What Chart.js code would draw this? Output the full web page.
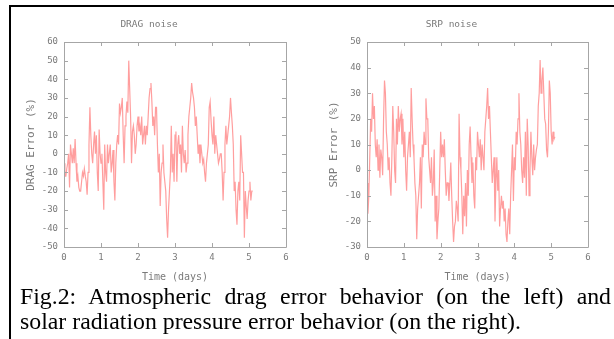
<!DOCTYPE html>
<html>
<head>
<meta charset="utf-8">
<script src="https://cdn.jsdelivr.net/npm/chart.js@4"></script>
<style>
  html, body { margin: 0; padding: 0; background: #fff; }
  body { width: 614px; height: 339px; position: relative; overflow: hidden; }
  .frame { position: absolute; left: 9px; top: 5px; width: 620px; height: 340px;
           border-left: 2px solid #000; border-top: 2px solid #000; }
  .plot { position: absolute; top: 8px; width: 293px; height: 280px; }
  #dragBox { left: 12px; }
  #srpBox { left: 315px; }
  .caption { position: absolute; left: 20px; top: 284px; width: 591px;
             font-family: 'Liberation Serif', 'Times New Roman', serif; font-size: 23.8px;
             line-height: 25px; color: #000; white-space: nowrap; }
  .caption .l1 { text-align: justify; text-align-last: justify; }
</style>
</head>
<body>
<div class="frame"></div>
<div class="plot" id="dragBox"><canvas id="dragChart"></canvas></div>
<div class="plot" id="srpBox"><canvas id="srpChart"></canvas></div>
<div class="caption">
  <div class="l1">Fig.2: Atmospheric drag error behavior (on the left) and</div>
  <div>solar radiation pressure error behavior (on the right).</div>
</div>
<script>
// --- data (one sample every 0.025 day) ---
const sampleStep = 0.025;
const xTicks = [0, 1, 2, 3, 4, 5, 6];

const dragNoise = [
  -5, -12, -12, -8, -5, 0, -18, 5, 0, -5,
  3, -5, 8, -5, -15, -12, -18, -20, -20, -15,
  -10, -12, -8, -12, -15, -22, -10, 5, 25, 10,
  0, -5, 5, 12, 0, 10, -10, -20, 13, 0,
  -5, 0, -15, -30, 5, -10, -15, 5, -5, 0,
  5, -10, -5, 2, -15, -25, -5, 5, 10, 5,
  27, 22, 25, 30, 10, -5, 15, 20, 28, 22,
  50, 35, 20, -5, 12, 15, 10, 0, 5, 15,
  20, 12, 15, 10, 20, 5, 10, 15, 5, 15,
  10, 20, 30, 35, 38, 28, 15, 20, 10, 25,
  25, 5, -10, 0, -28, -10, -5, 5, -10, -15,
  -20, -35, -45, -30, -20, -10, 15, -10, 0, -15,
  10, 12, -15, 5, 10, 0, 5, -10, 15, 0,
  -5, 2, -10, -5, 10, 20, 25, 30, 38, 33,
  30, 25, 15, 20, 10, 0, 5, -5, 5, 0,
  -5, -3, -10, -15, -5, 0, 5, 25, 28, 18,
  10, 5, 20, 0, 10, 5, 0, -5, -3, 0,
  0, -10, -25, -10, 5, 15, 5, 10, 15, 20,
  30, 22, 15, 5, -20, -15, -30, -38, -20, -15,
  -25, 10, 0, -10, -10, -45, -20, -28, -35, -25,
  -20, -15, -25, -20, -20
];

const srpNoise = [
  -5, -17, -10, 5, 20, 15, 30, 20, 25, 10,
  5, 12, 0, 10, -3, 8, 5, -2, 20, 35,
  30, 15, 10, 0, 5, -5, -10, 5, 25, 15,
  0, -5, 20, 10, 25, 15, 20, 22, 10, 20,
  5, 15, 0, -8, 5, 10, 15, 5, 32, 20,
  10, 5, -5, -10, -27, -15, -10, -5, 5, -15,
  10, 5, 15, 10, 28, 20, 20, 5, 0, -5,
  5, -10, -5, 8, -20, -10, -27, -20, -15, 0,
  15, 5, 10, 5, 12, 0, -10, -5, -5, -12,
  -5, 3, -10, -20, -28, -22, -20, -12, -15, -20,
  22, 5, 0, -10, -25, -10, -18, -5, -22, 0,
  -10, 10, 17, 5, -5, 3, -10, -15, 5, 0,
  15, 10, 5, 12, 0, 10, 5, 0, 15, 20,
  25, 32, 20, 25, 15, 5, -5, 0, 5, -20,
  -5, 5, -8, 0, -22, -15, -10, -15, -12, -20,
  -15, -25, -28, -20, -15, -25, -10, 0, 10, -12,
  5, 0, 15, 10, 20, 30, 15, 10, 0, -5,
  5, -3, 15, -10, 20, 10, -10, 0, 15, 5,
  -2, 10, 0, 5, 8, 10, 25, 30, 43, 30,
  35, 40, 30, 20, 18, 8, 5, 15, 35, 30,
  15, 10, 15, 12, 13
];

const MONO = "'DejaVu Sans Mono', 'Liberation Mono', monospace";
const GREY_TEXT = '#7a7a7a';
const GREY_FRAME = '#a6a6a6';

// gnuplot style box with inward ticks on all four sides
const gnuplotFrame = {
  id: 'gnuplotFrame',
  afterDraw(chart) {
    const { ctx, chartArea: a, scales: { x, y } } = chart;
    const len = 4;
    ctx.save();
    ctx.strokeStyle = GREY_FRAME;
    ctx.lineWidth = 1;
    ctx.beginPath();
    ctx.rect(Math.round(a.left) + 0.5, Math.round(a.top) + 0.5,
             Math.round(a.right - a.left), Math.round(a.bottom - a.top));
    x.ticks.forEach(t => {
      const px = Math.round(x.getPixelForValue(t.value)) + 0.5;
      ctx.moveTo(px, a.bottom); ctx.lineTo(px, a.bottom - len);
      ctx.moveTo(px, a.top); ctx.lineTo(px, a.top + len);
    });
    y.ticks.forEach(t => {
      const py = Math.round(y.getPixelForValue(t.value)) + 0.5;
      ctx.moveTo(a.left, py); ctx.lineTo(a.left + len, py);
      ctx.moveTo(a.right, py); ctx.lineTo(a.right - len, py);
    });
    ctx.stroke();
    ctx.restore();
  }
};

const toPoints = (values) => values.map((v, i) => ({ x: +(i * sampleStep).toFixed(3), y: v }));

const makeChart = (canvasId, title, yTitle, values, yMin, yMax, rightPad) => {
  return new Chart(document.getElementById(canvasId), {
    type: 'line',
    data: {
      datasets: [{
        data: toPoints(values),
        borderColor: 'rgba(255, 0, 0, 0.38)',
        borderWidth: 1.2,
        pointRadius: 0,
        tension: 0,
        fill: false
      }]
    },
    options: {
      responsive: true,
      maintainAspectRatio: false,
      animation: false,
      layout: { padding: { left: 0, top: 0, right: rightPad, bottom: 0 } },
      plugins: {
        legend: { display: false },
        tooltip: { enabled: false },
        title: {
          display: true,
          text: title,
          color: GREY_TEXT,
          font: { family: MONO, size: 9.5, weight: 'normal' },
          padding: { top: 11, bottom: 11.6 }
        }
      },
      scales: {
        x: {
          type: 'linear',
          min: 0, max: 6,
          afterBuildTicks: (s) => { s.ticks = xTicks.map(v => ({ value: v })); },
          afterFit: (s) => { s.height = 41; },
          grid: { display: false, drawTicks: false },
          border: { display: false },
          ticks: { color: GREY_TEXT, font: { family: MONO, size: 9 }, padding: 5, maxRotation: 0 },
          title: {
            display: true, text: 'Time (days)', color: GREY_TEXT,
            font: { family: MONO, size: 10 }, padding: { top: 0, bottom: 5 }
          }
        },
        y: {
          min: yMin, max: yMax,
          afterFit: (s) => { s.width = 52; },
          grid: { display: false, drawTicks: false },
          border: { display: false },
          ticks: { color: GREY_TEXT, font: { family: MONO, size: 9 }, padding: 6, stepSize: 10 },
          title: {
            display: true, text: yTitle, color: GREY_TEXT,
            font: { family: MONO, size: 11 }, padding: { top: 13, bottom: 0 }
          }
        }
      }
    },
    plugins: [gnuplotFrame]
  });
};

makeChart('dragChart', 'DRAG noise', 'DRAG Error (%)', dragNoise, -50, 60, 19);
makeChart('srpChart', 'SRP noise', 'SRP Error (%)', srpNoise, -30, 50, 20);
</script>
</body>
</html>
